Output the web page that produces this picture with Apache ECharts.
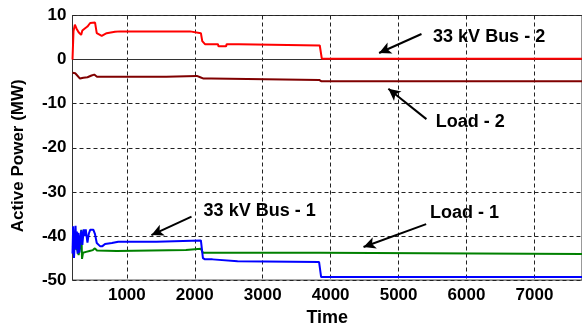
<!DOCTYPE html>
<html><head><meta charset="utf-8">
<script src="https://cdn.jsdelivr.net/npm/echarts@6/dist/echarts.min.js"></script>
<style>html,body{margin:0;padding:0;background:#fff}#c{width:582px;height:332px}</style>
</head><body><div id="c"></div>
<script>
// Tick values
const xTicks = [1000, 2000, 3000, 4000, 5000, 6000, 7000];
const yTicks = [-50, -40, -30, -20, -10, 0, 10];

// Series data: [time, MW]
const bus2 = [[200,0],[215,6.5],[235,7.9],[260,7.0],[290,6.2],[327,5.6],[345,6.6],[386,7.1],[420,7.5],[460,8.3],[484,8.4],[532,8.4],[557,6.0],[630,5.4],[703,6.0],[825,6.3],[900,6.4],[1930,6.4],[1950,6.0],[2090,6.0],[2110,4.2],[2150,3.5],[2340,3.5],[2350,3.0],[2460,3.0],[2470,3.5],[2650,3.5],[2660,3.2],[3840,3.2],[3870,0.2],[7700,0.2]];
const load2 = [[200,-3.0],[240,-3.1],[270,-3.6],[310,-4.3],[360,-4.1],[420,-4.0],[480,-3.6],[520,-3.4],[560,-3.9],[1580,-3.9],[1600,-3.7],[2030,-3.7],[2080,-4.0],[2130,-4.3],[2240,-4.3],[2260,-4.6],[3830,-4.6],[3860,-4.9],[7700,-4.9]];
const bus1 = [[200,-44],[210,-37.8],[222,-45],[235,-41],[245,-37.7],[255,-43],[265,-39],[275,-44],[288,-39.3],[300,-43.8],[315,-40.5],[330,-38.7],[345,-42],[365,-38.5],[380,-40],[395,-38.5],[420,-41.5],[440,-39.5],[460,-38.6],[508,-38.6],[530,-39.5],[557,-41.6],[605,-42.3],[640,-42.3],[679,-41.8],[780,-41.6],[873,-41.3],[1435,-41.3],[1450,-41.0],[2090,-41.0],[2120,-45.0],[2150,-45.3],[2260,-45.3],[2280,-45.7],[2630,-45.7],[2650,-45.9],[3830,-45.9],[3860,-49.3],[7700,-49.3]];
const load1 = [[200,-42.2],[240,-42.8],[270,-43.1],[290,-44.3],[310,-42.6],[330,-38.6],[340,-45.2],[355,-43.8],[400,-43.6],[450,-43.4],[500,-43.2],[530,-42.8],[560,-43.3],[850,-43.4],[870,-43.2],[1870,-43.2],[1890,-42.9],[2090,-42.9],[2120,-43.8],[3840,-43.8],[3860,-44.1],[7700,-44.1]];

// Annotations: text, text anchor [time, MW], arrow tail, arrow tip
const annText = ['33 kV Bus - 2', 'Load - 2', '33 kV Bus - 1', 'Load - 1'];
const annAnchor = [[5508, 5.2], [5546, -14.2], [2130, -34.4], [5464, -34.8]];
const arrowTail = [[5337, 5.8], [5410, -13.5], [1952, -35.6], [5406, -37.3]];
const arrowTip = [[4713, 1.5], [4850, -6.6], [1362, -39.8], [4484, -42.5]];

const FONT = '"Liberation Sans", Arial, sans-serif';
const chart = echarts.init(document.getElementById('c'), null, {renderer: 'canvas'});

function line(data, color) {
  return {type: 'line', data: data, showSymbol: false, symbol: 'none', animation: false,
    lineStyle: {color: color, width: 2}, itemStyle: {color: color}};
}

const annSeries = {
  type: 'line', data: [], animation: false, showSymbol: false,
  markLine: {
    silent: true, animation: false,
    lineStyle: {color: '#000', width: 2, type: 'solid'},
    label: {show: false},
    symbol: ['none', 'triangle'], symbolSize: [0, 11],
    data: arrowTail.map((t, i) => [{coord: t, symbol: 'none'}, {coord: arrowTip[i], symbol: 'arrow', symbolSize: [9, 12]}])
  },
  markPoint: {
    silent: true, animation: false, symbol: 'circle', symbolSize: 0,
    label: {show: true, position: 'right', distance: 0, color: '#000', fontFamily: FONT, fontWeight: 'bold', fontSize: 18,
      formatter: p => p.name},
    data: annAnchor.map((a, i) => ({name: annText[i], coord: a}))
  }
};

chart.setOption({
  backgroundColor: '#fff',
  animation: false,
  grid: {left: 72.5, right: -3, top: 15.5, bottom: 49.3, show: true, borderColor: '#333', borderWidth: 1},
  xAxis: {
    type: 'value', min: 200, max: 7700,
    name: 'Time', nameLocation: 'middle', nameGap: 28,
    nameTextStyle: {color: '#000', fontFamily: FONT, fontWeight: 'bold', fontSize: 18},
    axisLine: {show: true, lineStyle: {color: '#333', width: 1}},
    axisTick: {show: false, customValues: xTicks},
    axisLabel: {customValues: xTicks, formatter: v => String(v), color: '#000', fontFamily: FONT, fontWeight: 'bold', fontSize: 17, margin: 7},
    splitLine: {show: true, lineStyle: {color: '#222', width: 1, type: [4, 3]}}
  },
  yAxis: {
    type: 'value', min: -50, max: 10, interval: 10,
    name: 'Active Power (MW)', nameLocation: 'middle', nameGap: 46,
    nameTextStyle: {color: '#000', fontFamily: FONT, fontWeight: 'bold', fontSize: 17, padding: [0, 16, 0, 0]},
    axisLine: {show: true, lineStyle: {color: '#333', width: 1}},
    axisTick: {show: false},
    axisLabel: {formatter: v => String(v), color: '#000', fontFamily: FONT, fontWeight: 'bold', fontSize: 17, margin: 6},
    splitLine: {show: true, lineStyle: {color: '#222', width: 1, type: [4, 3]}}
  },
  series: [
    line(bus2, '#ff0000'),
    line(load2, '#800000'),
    line(load1, '#008000'),
    line(bus1, '#0000ff'),
    annSeries
  ]
});
</script></body></html>
